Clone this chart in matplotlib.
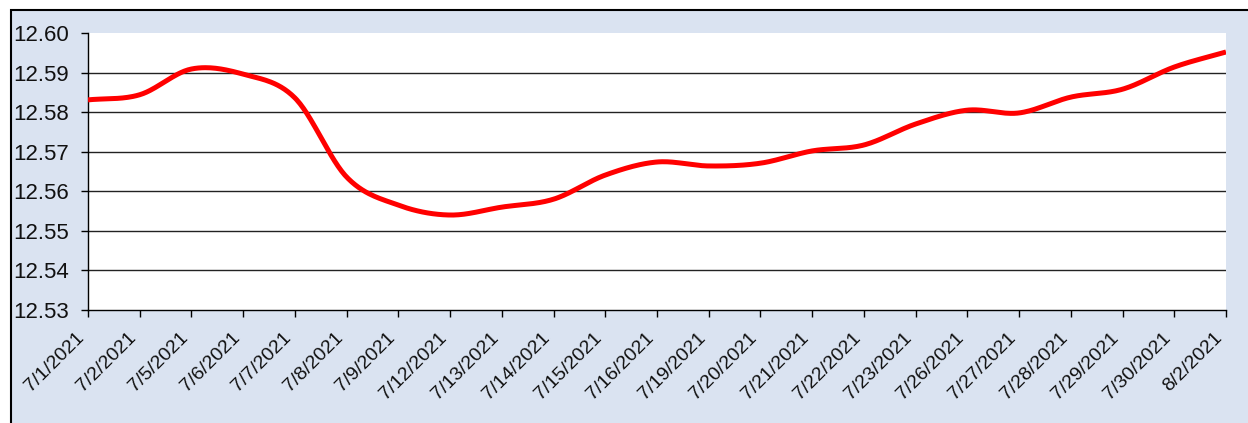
import numpy as np
import matplotlib
matplotlib.use("Agg")
import matplotlib.pyplot as plt
from matplotlib.patches import Rectangle

dates = ["7/1/2021", "7/2/2021", "7/5/2021", "7/6/2021", "7/7/2021", "7/8/2021",
         "7/9/2021", "7/12/2021", "7/13/2021", "7/14/2021", "7/15/2021", "7/16/2021",
         "7/19/2021", "7/20/2021", "7/21/2021", "7/22/2021", "7/23/2021", "7/26/2021",
         "7/27/2021", "7/28/2021", "7/29/2021", "7/30/2021", "8/2/2021"]
values = [12.5831, 12.5844, 12.5909, 12.5896, 12.5836, 12.5636,
          12.5565, 12.5540, 12.5560, 12.5580, 12.5641, 12.5674,
          12.5664, 12.5671, 12.5702, 12.5717, 12.5770, 12.5805,
          12.5798, 12.5838, 12.5858, 12.5914, 12.5952]
y_ticks = [12.53, 12.54, 12.55, 12.56, 12.57, 12.58, 12.59, 12.60]


def smooth_curve(x, y, steps=30):
    """Catmull-Rom style smoothing through every point (spreadsheet 'smoothed line')."""
    x = np.asarray(x, float)
    y = np.asarray(y, float)
    px = np.concatenate([[2 * x[0] - x[1]], x, [2 * x[-1] - x[-2]]])
    py = np.concatenate([[2 * y[0] - y[1]], y, [2 * y[-1] - y[-2]]])
    xs, ys = [], []
    t = np.linspace(0, 1, steps, endpoint=False)
    for i in range(1, len(px) - 2):
        p0, p1, p2, p3 = (np.array([px[j], py[j]]) for j in range(i - 1, i + 3))
        c1 = p1 + (p2 - p0) / 6.0
        c2 = p2 - (p3 - p1) / 6.0
        b = ((1 - t) ** 3)[:, None] * p1 + (3 * (1 - t) ** 2 * t)[:, None] * c1 \
            + (3 * (1 - t) * t ** 2)[:, None] * c2 + (t ** 3)[:, None] * p2
        xs.extend(b[:, 0])
        ys.extend(b[:, 1])
    xs.append(x[-1])
    ys.append(y[-1])
    return np.array(xs), np.array(ys)


W, H = 1248, 423
fig = plt.figure(figsize=(W / 100, H / 100), dpi=100)
fig.patch.set_facecolor("white")

# light blue chart panel with a black frame (runs off the right and bottom edges)
panel = Rectangle((11 / W, 0 - 0.05), 1.1, (H - 10) / H + 0.05, transform=fig.transFigure,
                  facecolor="#DAE3F1", edgecolor="black", linewidth=1.5, zorder=-10)
fig.patches.append(panel)

ax = fig.add_axes([88 / W, 1 - 310 / H, (1226 - 88) / W, (310 - 33) / H])
ax.set_zorder(5)
ax.set_facecolor("white")

x = np.arange(len(dates))
sx, sy = smooth_curve(x, values)
ax.plot(sx, sy, color="#FF0000", linewidth=3.6, solid_capstyle="butt", zorder=3)

ax.set_xlim(0, len(dates) - 1)
ax.set_ylim(12.53, 12.60)
ax.set_yticks(y_ticks)
ax.set_yticklabels([f"{v:.2f}" for v in y_ticks])
ax.set_xticks(x)
ax.set_xticklabels(dates, rotation=45, ha="right", va="top")

for v in y_ticks[1:-1]:
    ax.axhline(v, color="#222222", linewidth=1.0, zorder=1)

for side in ("top", "right"):
    ax.spines[side].set_visible(False)
for side in ("left", "bottom"):
    ax.spines[side].set_color("black")
    ax.spines[side].set_linewidth(1.0)

ax.tick_params(axis="y", direction="out", length=5, width=1, pad=9,
               labelsize=16, labelcolor="#111111")
ax.tick_params(axis="x", direction="out", length=5, width=1, pad=9,
               labelsize=14, labelcolor="#111111")
for lbl in ax.get_xticklabels() + ax.get_yticklabels():
    lbl.set_fontfamily("Liberation Sans")

fig.savefig("out.png", dpi=100)
